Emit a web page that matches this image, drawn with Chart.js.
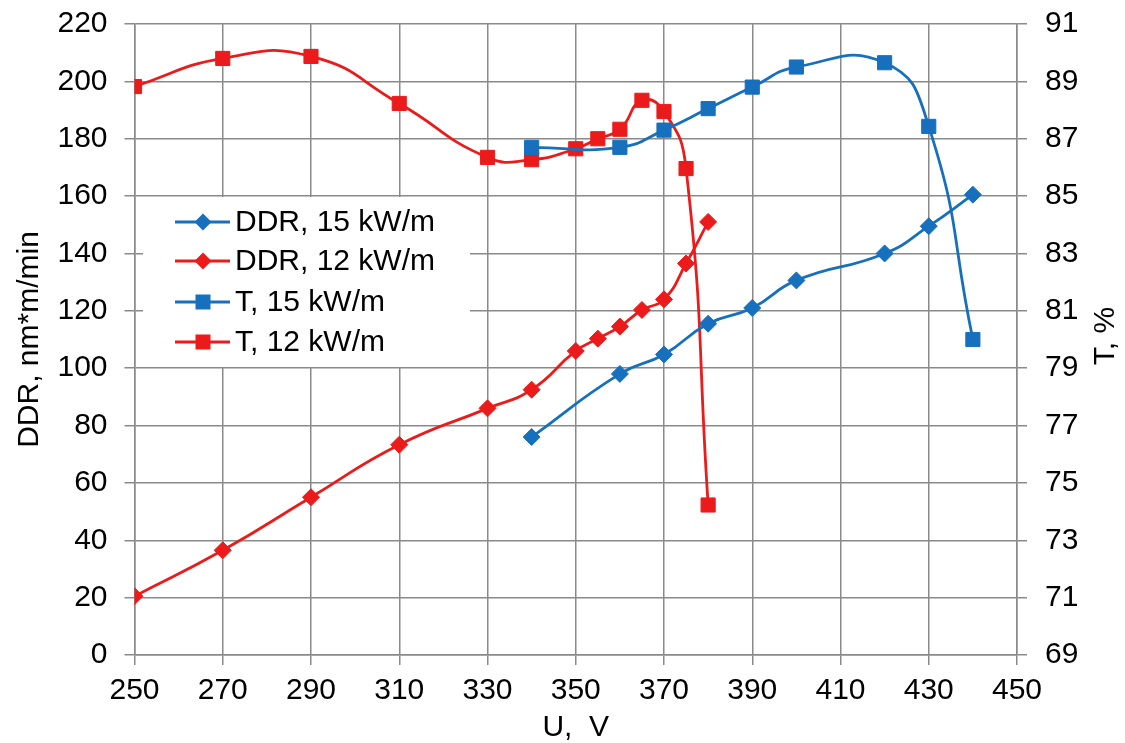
<!DOCTYPE html>
<html>
<head>
<meta charset="utf-8">
<script src="https://cdn.jsdelivr.net/npm/chart.js@4.4.1/dist/chart.umd.min.js"></script>
<style>
html, body { margin: 0; padding: 0; background: #fff; }
</style>
</head>
<body>
<canvas id="chart" width="1125" height="743"></canvas>
<script>
// DDR series (left axis)
const uDdr15 = [340, 360, 370, 380, 390, 400, 420, 430, 440];
const ddr15 = [76, 98, 104.8, 115.5, 121, 130.6, 140, 149.5, 160.5];
const uDdr12 = [250, 270, 290, 310, 330, 340, 350, 355, 360, 365, 370, 375, 380];
const ddr12 = [20.5, 36.5, 55, 73.3, 86, 92.5, 106, 110.3, 114.5, 120.3, 124, 136.5, 151];

// T series (right axis)
const uT15 = [340, 360, 370, 380, 390, 400, 420, 430, 440];
const t15 = [86.7, 86.7, 87.3, 88.05, 88.8, 89.5, 89.65, 87.43, 80.0];
const uT12 = [250, 270, 290, 310, 330, 340, 350, 355, 360, 365, 370, 375, 380];
const t12 = [88.82, 89.8, 89.87, 88.23, 86.35, 86.27, 86.65, 87.0, 87.33, 88.34, 87.95, 85.96, 74.23];

const xTicks = [250, 270, 290, 310, 330, 350, 370, 390, 410, 430, 450];
const leftTicks = [0, 20, 40, 60, 80, 100, 120, 140, 160, 180, 200, 220];
const rightTicks = [69, 71, 73, 75, 77, 79, 81, 83, 85, 87, 89, 91];

const labels = ['DDR, 15 kW/m', 'DDR, 12 kW/m', 'T, 15 kW/m', 'T, 12 kW/m'];

const blue = '#1770BD';
const red = '#EC1B1B';
const gridColor = '#8a8a8a';
const font = "'Liberation Sans', Arial, sans-serif";

function pairs(xs, ys) {
    return xs.map((x, i) => ({ x: x, y: ys[i] }));
}

function series(label, data, color, shape, axis) {
    return {
        label: label,
        data: data,
        yAxisID: axis,
        borderColor: color,
        backgroundColor: color,
        borderWidth: 2.8,
        pointStyle: shape,
        pointRadius: shape === 'rect' ? 10 : 8.5,
        pointBorderWidth: 1,
        pointBorderColor: color,
        pointBackgroundColor: color,
        tension: 0.5,
        fill: false
    };
}

function drawMarker(ctx, shape, x, y, color) {
    ctx.fillStyle = color;
    ctx.beginPath();
    if (shape === 'rect') {
        ctx.rect(x - 7.5, y - 7.5, 15, 15);
    } else {
        ctx.moveTo(x - 8.5, y);
        ctx.lineTo(x, y - 8.5);
        ctx.lineTo(x + 8.5, y);
        ctx.lineTo(x, y + 8.5);
        ctx.closePath();
    }
    ctx.fill();
}

// legend sits inside the plot on a white box, like the original
const boxLegend = {
    id: 'boxLegend',
    beforeDatasetsDraw(chart) {
        const ctx = chart.ctx;
        ctx.save();
        ctx.fillStyle = '#fff';
        ctx.fillRect(143, 197, 327, 170);
        chart.data.datasets.forEach((ds, i) => {
            const y = [222, 261, 302, 342][i];
            ctx.strokeStyle = ds.borderColor;
            ctx.lineWidth = 2.8;
            ctx.beginPath();
            ctx.moveTo(175, y);
            ctx.lineTo(230, y);
            ctx.stroke();
            drawMarker(ctx, ds.pointStyle, 203, y, ds.borderColor);
            ctx.fillStyle = '#000';
            ctx.font = '30px ' + font;
            ctx.textBaseline = 'middle';
            ctx.textAlign = 'left';
            ctx.fillText(ds.label, 235, y + 1);
        });
        ctx.restore();
    },
    afterDraw(chart) {
        // right axis title reads bottom to top
        const ctx = chart.ctx;
        ctx.save();
        ctx.translate(1106, 336);
        ctx.rotate(-Math.PI / 2);
        ctx.fillStyle = '#000';
        ctx.font = '30px ' + font;
        ctx.textAlign = 'center';
        ctx.textBaseline = 'middle';
        ctx.fillText('T, %', 0, 0);
        ctx.restore();
    }
};

const tickFont = { family: font, size: 30 };
// small line height on the value axes so the plot can start near the top
const yTickFont = { family: font, size: 30, lineHeight: 0.4 };

new Chart('chart', {
    type: 'line',
    data: {
        datasets: [
            series(labels[0], pairs(uDdr15, ddr15), blue, 'rectRot', 'y'),
            series(labels[1], pairs(uDdr12, ddr12), red, 'rectRot', 'y'),
            series(labels[2], pairs(uT15, t15), blue, 'rect', 'y2'),
            series(labels[3], pairs(uT12, t12), red, 'rect', 'y2')
        ]
    },
    options: {
        responsive: false,
        animation: false,
        layout: { padding: { top: 23, left: 0, right: 0, bottom: 0 } },
        plugins: {
            legend: { display: false },
            tooltip: { enabled: false }
        },
        scales: {
            x: {
                type: 'linear',
                min: 250,
                max: 450,
                afterBuildTicks: s => { s.ticks = xTicks.map(v => ({ value: v })); },
                afterFit: s => { s.height = 88; },
                grid: { color: gridColor, lineWidth: 1.5, tickLength: 10 },
                border: { color: gridColor, width: 1.5 },
                ticks: { font: tickFont, color: '#000', padding: 8, maxRotation: 0 },
                title: {
                    display: true,
                    text: 'U,  V',
                    font: tickFont,
                    color: '#000',
                    padding: { top: 0, bottom: -3 }
                }
            },
            y: {
                position: 'left',
                min: 0,
                max: 220,
                afterBuildTicks: s => { s.ticks = leftTicks.map(v => ({ value: v })); },
                afterFit: s => { s.width = 134.5; },
                grid: { color: gridColor, lineWidth: 1.5, tickLength: 10 },
                border: { color: gridColor, width: 1.5 },
                ticks: { font: yTickFont, color: '#000', padding: 17 },
                title: {
                    display: true,
                    text: 'DDR, nm*m/min',
                    font: tickFont,
                    color: '#000',
                    padding: { top: 12, bottom: 0 }
                }
            },
            y2: {
                position: 'right',
                min: 69,
                max: 91,
                afterBuildTicks: s => { s.ticks = rightTicks.map(v => ({ value: v })); },
                afterFit: s => { s.width = 108; },
                grid: { drawOnChartArea: false, color: gridColor, lineWidth: 1.5, tickLength: 10 },
                border: { color: gridColor, width: 1.5 },
                ticks: { font: yTickFont, color: '#000', padding: 18 }
            }
        }
    },
    plugins: [boxLegend]
});
</script>
</body>
</html>
